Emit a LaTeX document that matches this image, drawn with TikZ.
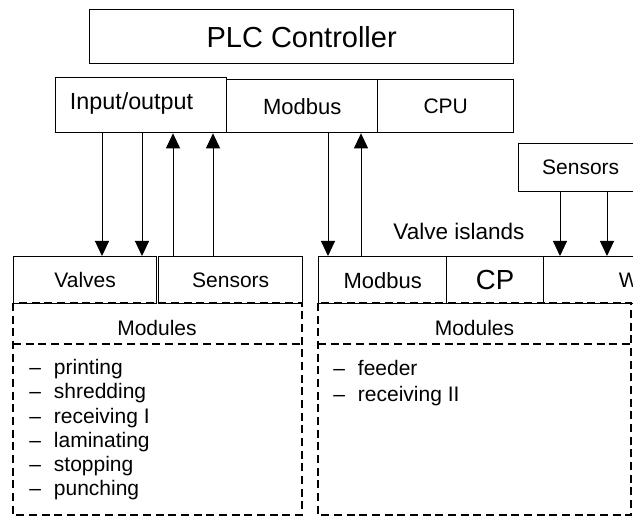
\documentclass[tikz,border=0pt]{standalone}
\usepackage{fontspec}
\setmainfont{Liberation Sans}
\usetikzlibrary{arrows.meta}

\tikzset{
  box/.style={draw, line width=1pt, inner sep=0pt, anchor=north west},
  link/.style={line width=0.75pt, -{Triangle[length=11.25pt,width=10.5pt]}},
  modframe/.style={line width=1pt, dash pattern=on 6pt off 3.5pt},
  item/.style={anchor=base west, inner sep=0pt},
}

\begin{document}
\begin{tikzpicture}[x=0.75pt,y=0.75pt,yscale=-1,xscale=1,font=\fontsize{15.75}{19}\selectfont]
\useasboundingbox (0,0) rectangle (633,516);
\clip (0,0) rectangle (633,516);

% Module frames
\draw [modframe] (13,303) rectangle (302,515);
\draw [modframe] (13,344) -- (302,344);
\draw [modframe] (318,303) rectangle (631,515);
\draw [modframe] (318,344) -- (631,344);

% Controller
\draw (89,9) node (plc) [box, minimum width=318pt, minimum height=40.5pt, font=\fontsize{21.75}{26}\selectfont] {PLC Controller};
\draw (55,77) node (io) [box, minimum width=128.25pt, minimum height=41.25pt] {};
\draw (131.5,103) node (iotext) [font=\fontsize{17.5}{21}\selectfont] {Input/output};
\draw (226,79) node (mb) [box, minimum width=113.25pt, minimum height=39.75pt, font=\fontsize{16.5}{20}\selectfont] {Modbus};
\draw (377,79) node (cpu) [box, minimum width=102pt, minimum height=39.75pt] {CPU};

% Local I/O
\draw (13,256) node (valves) [box, minimum width=107.25pt, minimum height=35.25pt] {Valves};
\draw (158,256) node (sens) [box, minimum width=108pt, minimum height=35.25pt] {Sensors};

% Valve island
\draw (518,143) node (islsens) [box, minimum width=93pt, minimum height=36pt] {Sensors};
\draw (459,231) node (isl) [font=\fontsize{16.9}{20}\selectfont] {Valve islands};
\draw (318,256) node (mb2) [box, minimum width=96pt, minimum height=35.25pt, font=\fontsize{16.5}{20}\selectfont] {Modbus};
\draw (446,256) node (cp) [box, minimum width=72.75pt, minimum height=35.25pt, font=\fontsize{20.7}{24}\selectfont] {CP};
\draw (543,256) node (vt) [box, minimum width=127.5pt, minimum height=35.25pt] {W};

% Signal lines
\coordinate (x1) at (102,0);
\coordinate (x2) at (142,0);
\coordinate (x3) at (173,0);
\coordinate (x4) at (213,0);
\coordinate (x5) at (328,0);
\coordinate (x6) at (361,0);
\coordinate (x7) at (560,0);
\coordinate (x8) at (607,0);
\draw [link] (io.south -| x1) -- (valves.north -| x1);
\draw [link] (io.south -| x2) -- (valves.north -| x2);
\draw [link] (sens.north -| x3) -- (io.south -| x3);
\draw [link] (sens.north -| x4) -- (io.south -| x4);
\draw [link] (mb.south -| x5) -- (mb2.north -| x5);
\draw [link] (mb2.north -| x6) -- (mb.south -| x6);
\draw [link] (islsens.south -| x7) -- (vt.north -| x7);
\draw [link] (islsens.south -| x8) -- (vt.north -| x8);

% Modules
\draw (157,328) node (modl) {Modules};
\draw (474.5,328) node (modr) {Modules};
\draw (29,374.5) node (ml1) [item] {--\hspace{9.75pt}printing};
\draw (29,398.8) node (ml2) [item] {--\hspace{9.75pt}shredding};
\draw (29,423.1) node (ml3) [item] {--\hspace{9.75pt}receiving I};
\draw (29,447.4) node (ml4) [item] {--\hspace{9.75pt}laminating};
\draw (29,471.7) node (ml5) [item] {--\hspace{9.75pt}stopping};
\draw (29,496) node (ml6) [item] {--\hspace{9.75pt}punching};
\draw (333,375.5) node (mr1) [item] {--\hspace{9.75pt}feeder};
\draw (333,402) node (mr2) [item] {--\hspace{9.75pt}receiving II};

\end{tikzpicture}
\end{document}
